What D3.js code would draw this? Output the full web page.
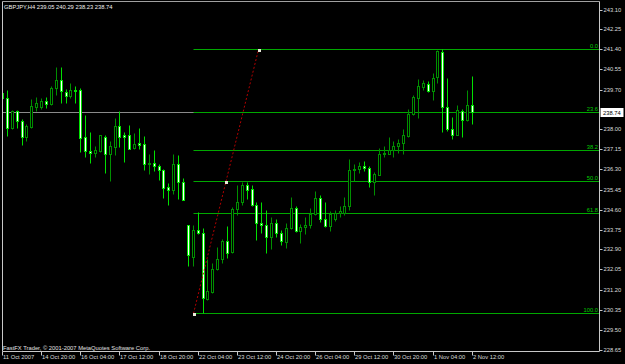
<!DOCTYPE html>
<html><head><meta charset="utf-8">
<script src="https://cdn.jsdelivr.net/npm/d3@7"></script>
<style>
html,body{margin:0;padding:0;background:#000;}
svg{display:block;}
text{font-family:"Liberation Sans",Arial,sans-serif;}
</style></head>
<body><svg id="c" width="625" height="364"></svg>
<script>
// ---- data (GBPJPY H4, 97 bars) ----
const opens  = [239.54,239.33,238.07,238.78,238.35,237.67,238.10,238.95,238.95,239.23,239.09,239.77,240.11,239.59,239.42,239.70,239.69,237.67,237.08,236.99,237.08,237.70,236.97,237.25,238.17,237.77,237.75,237.21,237.43,237.39,236.53,236.57,236.46,236.26,235.55,235.41,236.54,235.75,233.96,232.60,233.74,233.62,230.79,231.09,232.05,232.50,233.28,232.79,234.63,234.91,235.62,235.48,234.80,234.02,233.95,233.42,234.03,233.62,233.21,233.81,234.67,233.68,233.85,233.96,234.42,235.08,234.19,233.88,234.20,234.47,234.46,234.74,236.29,236.31,236.46,236.36,235.76,236.07,236.97,236.97,237.14,237.29,237.43,237.72,238.64,239.35,239.80,239.94,239.63,240.22,241.29,238.95,238.03,237.75,238.79,238.41,239.05];
const highs  = [239.87,239.66,238.81,238.81,238.45,238.24,239.30,239.37,239.33,239.37,239.83,240.65,240.65,239.73,239.98,239.84,239.77,238.60,237.89,237.32,237.77,237.75,237.50,238.50,238.78,237.89,238.21,237.84,238.07,237.73,236.97,237.14,236.54,236.33,235.72,236.94,236.90,235.92,233.96,233.96,234.49,233.82,232.50,232.32,233.00,233.35,233.92,234.70,235.62,235.76,235.76,235.62,234.91,234.91,234.59,234.27,234.20,233.74,234.02,235.12,234.73,233.99,234.27,234.67,235.37,235.20,234.91,234.53,234.56,234.73,235.15,236.75,236.54,236.61,236.65,236.47,236.19,237.22,237.32,237.67,237.53,237.58,238.03,238.88,239.45,240.15,240.11,240.08,240.39,241.36,241.40,240.20,238.55,239.02,238.88,239.66,240.29];
const lows   = [239.09,237.72,238.03,238.07,237.36,237.50,238.07,238.77,238.88,238.92,239.06,239.45,239.13,239.13,239.35,239.13,237.04,236.82,236.57,236.82,237.04,236.16,235.80,236.90,237.25,236.61,237.15,237.16,237.16,236.29,236.12,236.23,235.85,235.08,234.80,235.27,235.05,235.01,232.19,232.19,233.57,230.19,230.76,231.04,232.01,232.32,232.55,232.76,234.35,234.77,235.05,234.73,233.31,233.59,232.74,232.93,233.45,233.11,232.97,233.78,233.64,233.17,233.54,233.82,234.35,234.06,233.85,233.68,234.10,234.27,234.35,234.59,235.83,236.16,236.23,235.55,235.22,236.05,236.82,236.94,236.82,237.01,236.94,237.67,238.60,238.50,239.66,239.59,239.26,239.97,237.89,237.93,237.58,237.75,237.67,238.38,238.23];
const closes = [239.33,238.07,238.78,238.35,237.70,238.17,238.98,239.12,239.23,239.09,239.77,240.11,239.62,239.42,239.69,239.63,237.65,237.07,236.99,237.11,237.75,236.97,237.29,238.17,237.67,237.67,237.18,237.39,237.35,236.54,236.57,236.43,236.26,235.52,235.41,236.54,235.76,235.01,232.66,233.75,233.62,230.82,231.13,232.08,232.48,233.28,232.76,234.63,234.91,235.62,235.44,234.77,234.02,233.96,233.42,234.02,233.59,233.25,233.81,234.66,233.68,233.85,233.96,234.42,235.08,234.20,233.88,234.42,234.47,234.52,234.74,236.26,236.34,236.46,236.36,235.76,236.12,236.97,237.01,237.14,237.28,237.43,237.75,238.64,239.37,239.84,239.97,239.63,240.20,241.33,238.95,238.03,237.75,238.84,238.41,239.05,238.74];
const timeLabels = ["11 Oct 2007","14 Oct 20:00","16 Oct 04:00","17 Oct 12:00","18 Oct 20:00","22 Oct 04:00","23 Oct 12:00","24 Oct 20:00","26 Oct 04:00","29 Oct 12:00","30 Oct 20:00","1 Nov 04:00","2 Nov 12:00"];
const priceTicks = [243.10,242.25,241.40,240.55,239.70,238.00,237.15,236.30,235.45,234.60,233.75,232.90,232.05,231.20,230.35,229.50,228.65];
const fibLevels = [0, 23.6, 38.2, 50.0, 61.8, 100.0];
const fibLabels = ["0.0","23.6","38.2","50.0","61.8","100.0"];
const fibHigh = 241.40, fibLow = 230.19;
const fibStartBar = 39.1, fibEndBar = 52.4;
const bidPrice = 238.74;
const title = "GBPJPY,H4  239.05 240.29 238.23 238.74";
const footer = "FastFX Trader, \u00A9 2001-2007 MetaQuotes Software Corp.";

// ---- layout ----
const W = 625, H = 364;
const FS = "5.8px";
const plotL = 2.5, plotR = 599.5, plotT = 1.5, plotB = 351.5;
const svg = d3.select("#c");
svg.append("rect").attr("width", W).attr("height", H).attr("fill", "#000");

const x = d3.scaleLinear().domain([0, 96]).range([2, 471.7]);
const y = d3.scaleLinear().domain([228.65, 243.10]).range([349.5, 9.5]);
const px = i => Math.round(x(i)) + 0.5;
const py = p => Math.round(y(p)) + 0.5;

const g = svg.append("g");
g.append("defs").append("clipPath").attr("id", "clip")
  .append("rect").attr("x", plotL).attr("y", plotT).attr("width", plotR - plotL).attr("height", plotB - plotT);
const plot = g.append("g").attr("clip-path", "url(#clip)");

// bid line (gray)
plot.append("line").attr("x1", plotL).attr("x2", plotR)
  .attr("y1", py(bidPrice)).attr("y2", py(bidPrice)).attr("stroke", "#8a8a8a").attr("stroke-width", 1);

// fibonacci lines
const fibPrice = l => fibHigh - (fibHigh - fibLow) * l / 100;
const fibX0 = px(fibStartBar);
fibLevels.forEach((l, k) => {
  const yy = py(fibPrice(l));
  plot.append("line").attr("x1", fibX0).attr("x2", plotR).attr("y1", yy).attr("y2", yy)
    .attr("stroke", "#00a800").attr("stroke-width", 1);
  plot.append("text").attr("x", 598).attr("y", yy - 1.5).attr("text-anchor", "end")
    .attr("font-size", FS).attr("fill", "#00cc00").text(fibLabels[k]);
});

// candles
const data = opens.map((o, i) => ({i, o, h: highs[i], l: lows[i], c: closes[i]}));
const cg = plot.append("g");
data.forEach(d => {
  const bull = d.c >= d.o;
  const col = bull ? "#008f00" : "#00e000";
  const cx = px(d.i);
  cg.append("line").attr("x1", cx).attr("x2", cx).attr("y1", py(d.h)).attr("y2", py(d.l))
    .attr("stroke", col).attr("stroke-width", 1);
  const top = py(Math.max(d.o, d.c)), bot = py(Math.min(d.o, d.c));
  cg.append("rect").attr("x", cx - 1).attr("width", 2)
    .attr("y", top).attr("height", Math.max(0, bot - top))
    .attr("fill", bull ? "#000" : "#ffffff").attr("stroke", col).attr("stroke-width", 1);
});

// fib trend line (dotted red)
const ax = fibX0, ay = py(fibLow), bx = px(fibEndBar), by = py(fibHigh);
plot.append("line").attr("x1", ax).attr("y1", ay).attr("x2", bx).attr("y2", by)
  .attr("stroke", "#b00000").attr("stroke-width", 1).attr("stroke-dasharray", "2,2");
[[ax, ay], [(ax + bx) / 2, py(fibPrice(50))], [bx, by]].forEach(p => {
  plot.append("rect").attr("x", Math.round(p[0]) - 1).attr("y", Math.round(p[1]) - 1)
    .attr("width", 3).attr("height", 3).attr("fill", "#e8e8d8");
});

// axes
const axisCol = "#dcdcdc";
const rAxis = d3.axisRight(y).tickValues(priceTicks).tickFormat(d3.format(".2f")).tickSize(3).tickPadding(1);
const ra = svg.append("g").attr("transform", `translate(${plotR},0)`).call(rAxis);
ra.select(".domain").remove();
ra.selectAll(".tick line").attr("stroke", "#c8c8c8");
ra.selectAll(".tick").attr("transform", d => `translate(0,${py(d)})`);
ra.selectAll("text").attr("fill", axisCol).attr("font-size", FS).attr("font-family", "Liberation Sans, Arial, sans-serif");

const tickIdx = timeLabels.map((_, k) => k * 8);
const bAxis = d3.axisBottom(x).tickValues(tickIdx).tickFormat((d, k) => timeLabels[k]).tickSize(4).tickPadding(2);
const ba = svg.append("g").attr("transform", `translate(0,${plotB})`).call(bAxis);
ba.select(".domain").remove();
ba.selectAll(".tick").attr("transform", d => `translate(${Math.round(x(d)) + 0.5},0)`);
ba.selectAll(".tick line").attr("stroke", "#c8c8c8");
ba.selectAll("text").attr("fill", axisCol).attr("font-size", FS).attr("text-anchor", "start")
  .attr("x", 0.5).attr("y", 3.5).attr("font-family", "Liberation Sans, Arial, sans-serif");

// frame
svg.append("line").attr("x1", plotL).attr("x2", plotR).attr("y1", plotT).attr("y2", plotT).attr("stroke", "#a0a0a0");
svg.append("line").attr("x1", plotL).attr("x2", plotR).attr("y1", plotB).attr("y2", plotB).attr("stroke", "#c8c8c8");
svg.append("line").attr("x1", plotL).attr("x2", plotL).attr("y1", plotT).attr("y2", plotB).attr("stroke", "#c8c8c8");
svg.append("line").attr("x1", plotR).attr("x2", plotR).attr("y1", plotT).attr("y2", plotB).attr("stroke", "#c8c8c8");

// bid label
const by2 = py(bidPrice);
svg.append("rect").attr("x", 600.5).attr("y", by2 - 4.5).attr("width", 23).attr("height", 9).attr("fill", "#ffffff");
svg.append("text").attr("x", 603).attr("y", by2 + 2).attr("font-size", FS).attr("fill", "#000").text(bidPrice.toFixed(2));

// title & footer
svg.append("text").attr("x", 4).attr("y", 8.5).attr("font-size", FS).attr("fill", "#f0f0f0").text(title);
svg.append("text").attr("x", 3).attr("y", 350).attr("font-size", FS).attr("fill", "#e0e0e0").text(footer);
</script></body></html>
